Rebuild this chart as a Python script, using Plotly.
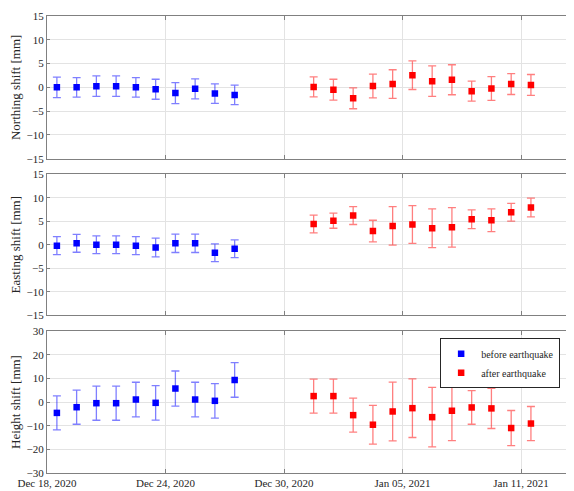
import plotly.graph_objects as go
from plotly.subplots import make_subplots

# ---- data ----
dates_before = ["2020-12-18 12:00", "2020-12-19 12:00", "2020-12-20 12:00", "2020-12-21 12:00",
                "2020-12-22 12:00", "2020-12-23 12:00", "2020-12-24 12:00", "2020-12-25 12:00",
                "2020-12-26 12:00", "2020-12-27 12:00"]
dates_after = ["2020-12-31 12:00", "2021-01-01 12:00", "2021-01-02 12:00", "2021-01-03 12:00",
               "2021-01-04 12:00", "2021-01-05 12:00", "2021-01-06 12:00", "2021-01-07 12:00",
               "2021-01-08 12:00", "2021-01-09 12:00", "2021-01-10 12:00", "2021-01-11 12:00"]

north_before = [0.0, 0.0, 0.25, 0.25, 0.0, -0.4, -1.2, -0.3, -1.3, -1.6]
north_before_err = [2.15, 2.05, 2.15, 2.15, 2.05, 2.1, 2.2, 2.1, 2.05, 2.05]
north_after = [0.1, -0.5, -2.3, 0.3, 0.7, 2.55, 1.3, 1.6, -0.8, -0.25, 0.7, 0.5]
north_after_err = [2.1, 2.2, 2.2, 2.5, 3.0, 3.0, 3.2, 3.15, 2.1, 2.5, 2.2, 2.2]

east_before = [-0.2, 0.3, 0.0, 0.0, -0.2, -0.6, 0.3, 0.3, -1.7, -0.85]
east_before_err = [1.9, 1.9, 1.9, 1.9, 1.9, 2.0, 1.95, 1.95, 1.9, 1.9]
east_after = [4.4, 5.1, 6.2, 2.9, 4.0, 4.3, 3.5, 3.7, 5.4, 5.2, 6.9, 7.9]
east_after_err = [1.9, 1.6, 1.9, 2.3, 4.1, 4.0, 4.1, 4.2, 2.0, 2.4, 1.9, 2.0]

height_before = [-4.6, -2.2, -0.5, -0.5, 1.05, -0.35, 5.7, 1.05, 0.5, 9.3]
height_before_err = [7.2, 7.2, 7.2, 7.2, 7.3, 7.3, 7.4, 7.3, 7.3, 7.3]
height_after = [2.5, 2.5, -5.55, -9.6, -4.0, -2.6, -6.4, -3.7, -2.3, -2.7, -11.0, -9.1]
height_after_err = [7.2, 7.2, 7.2, 8.2, 12.4, 12.4, 12.6, 12.6, 7.1, 8.5, 7.4, 7.2]

tick_dates = ["2020-12-18", "2020-12-24", "2020-12-30", "2021-01-05", "2021-01-11"]
tick_labels = ["Dec 18, 2020", "Dec 24, 2020", "Dec 30, 2020", "Jan 05, 2021", "Jan 11, 2021"]
y_titles = ["Northing shift [mm]", "Easting shift [mm]", "Height shift [mm]"]

# ---- figure ----
FONT = "Liberation Serif, DejaVu Serif, serif"
TXT = "#262626"
fig = make_subplots(rows=3, cols=1, shared_xaxes=True, vertical_spacing=0.03)

series = [
    (north_before, north_before_err, north_after, north_after_err),
    (east_before, east_before_err, east_after, east_after_err),
    (height_before, height_before_err, height_after, height_after_err),
]

for i, (yb, eb, ya, ea) in enumerate(series, start=1):
    fig.add_trace(go.Scatter(
        x=dates_before, y=yb, mode="markers", name="before earthquake",
        marker=dict(symbol="square", size=6.5, color="#0000ff"),
        error_y=dict(type="data", array=eb, visible=True, color="rgba(0,0,255,0.5)",
                     thickness=1.3, width=4),
        showlegend=(i == 3), legendrank=1), row=i, col=1)
    fig.add_trace(go.Scatter(
        x=dates_after, y=ya, mode="markers", name="after earthquake",
        marker=dict(symbol="square", size=6.5, color="#ff0000"),
        error_y=dict(type="data", array=ea, visible=True, color="rgba(255,0,0,0.5)",
                     thickness=1.3, width=4),
        showlegend=(i == 3), legendrank=2), row=i, col=1)

domains = [[0.6877, 1.0], [0.345, 0.654], [0.0, 0.3107]]
yranges = [[-15, 15], [-15, 15], [-30, 30]]
ydticks = [5, 5, 10]

for i in range(3):
    ax = "yaxis" if i == 0 else f"yaxis{i+1}"
    fig.layout[ax].update(
        domain=domains[i], range=yranges[i], dtick=ydticks[i], tick0=0,
        showgrid=True, gridcolor="#e3e3e3", gridwidth=1, zeroline=False,
        showline=True, linecolor="#808080", linewidth=1, mirror=True,
        ticks="inside", ticklen=3, tickcolor="#808080",
        tickfont=dict(family=FONT, size=11, color=TXT),
        title=dict(text=y_titles[i], font=dict(family=FONT, size=13, color=TXT), standoff=6),
    )
    xa = "xaxis" if i == 0 else f"xaxis{i+1}"
    fig.layout[xa].update(
        range=["2020-12-18 00:00", "2021-01-13 16:20"],
        tickvals=tick_dates, ticktext=tick_labels, showticklabels=(i == 2),
        showgrid=True, gridcolor="#e3e3e3", gridwidth=1, zeroline=False,
        showline=True, linecolor="#808080", linewidth=1, mirror="allticks",
        ticks="inside", ticklen=4, tickcolor="#808080",
        tickfont=dict(family=FONT, size=11, color=TXT),
    )

# the page body has an 8px margin, so the figure is sized/margined to compensate
fig.update_layout(
    width=566, height=483,
    margin=dict(l=39, r=0, t=8, b=18),
    paper_bgcolor="white", plot_bgcolor="white",
    font=dict(family=FONT, size=11, color=TXT),
    legend=dict(x=0.746, y=0.295, xanchor="left", yanchor="top",
                bgcolor="white", bordercolor="#262626", borderwidth=1,
                font=dict(family=FONT, size=10, color=TXT),
                tracegroupgap=0, itemwidth=30),
)

fig.write_html("out.html")
